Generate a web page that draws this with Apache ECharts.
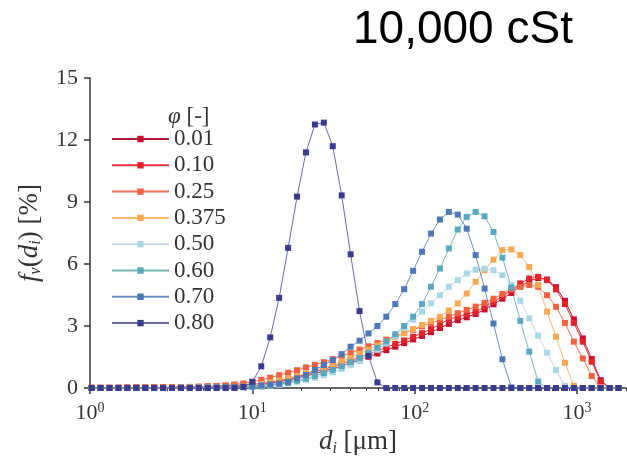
<!DOCTYPE html>
<html>
<head>
<meta charset="utf-8">
<script src="https://cdn.jsdelivr.net/npm/echarts@6/dist/echarts.min.js"></script>
<style>
html, body { margin: 0; padding: 0; background: #fff; }
#chart { width: 627px; height: 459px; }
</style>
</head>
<body>
<div id="chart"></div>
<script>
// droplet size classes [um]
var sizes = [1.023, 1.161, 1.318, 1.496, 1.698, 1.928, 2.188, 2.483, 2.818, 3.199, 3.631, 4.121, 4.677, 5.309, 6.026, 6.839, 7.762, 8.810,
  10.00, 11.35, 12.88, 14.62, 16.60, 18.84, 21.38, 24.27, 27.54, 31.26, 35.48, 40.27, 45.71, 51.88, 58.88, 66.83, 75.86, 86.10, 97.72,
  110.9, 125.9, 142.9, 162.2, 184.1, 208.9, 237.1, 269.2, 305.5, 346.7, 393.6, 446.7, 507.0, 575.4, 653.1, 741.3, 841.4, 955.0, 1084, 1230, 1396, 1585, 1799];

var phi001 = [0.01, 0.01, 0.01, 0.01, 0.01, 0.02, 0.02, 0.02, 0.03, 0.03, 0.04, 0.05, 0.05, 0.06, 0.08, 0.09, 0.11, 0.13,
  0.15, 0.19, 0.24, 0.31, 0.39, 0.48, 0.58, 0.69, 0.81, 0.94, 1.07, 1.21, 1.36, 1.51, 1.67, 1.83, 2.0, 2.17, 2.35,
  2.52, 2.7, 2.9, 3.1, 3.28, 3.42, 3.58, 3.8, 4.05, 4.32, 4.6, 4.92, 5.18, 5.32, 5.25, 4.88, 4.22, 3.32, 2.4, 1.4, 0.38, 0, 0];
var phi010 = [0.01, 0.01, 0.01, 0.01, 0.02, 0.02, 0.02, 0.03, 0.03, 0.04, 0.04, 0.05, 0.06, 0.07, 0.09, 0.1, 0.12, 0.14,
  0.17, 0.22, 0.28, 0.36, 0.45, 0.55, 0.66, 0.78, 0.9, 1.04, 1.18, 1.33, 1.48, 1.64, 1.8, 1.96, 2.13, 2.3, 2.48,
  2.65, 2.85, 3.09, 3.32, 3.45, 3.57, 3.69, 3.93, 4.17, 4.44, 4.73, 5.06, 5.30, 5.38, 5.22, 4.77, 4.06, 3.15, 2.24, 1.27, 0.31, 0, 0];
var phi025 = [0.01, 0.01, 0.01, 0.01, 0.01, 0.02, 0.02, 0.02, 0.03, 0.03, 0.04, 0.05, 0.06, 0.08, 0.1, 0.13, 0.17, 0.22,
  0.3, 0.4, 0.5, 0.62, 0.74, 0.86, 1.0, 1.12, 1.25, 1.4, 1.55, 1.7, 1.86, 2.02, 2.18, 2.34, 2.5, 2.66, 2.82,
  2.98, 3.14, 3.3, 3.46, 3.62, 3.78, 3.94, 4.12, 4.32, 4.55, 4.78, 4.9, 4.98, 4.9, 4.49, 3.93, 3.15, 2.24, 1.43, 0.58, 0, 0, 0];
var phi0375 = [0, 0, 0, 0, 0, 0, 0.01, 0.01, 0.01, 0.02, 0.02, 0.03, 0.03, 0.04, 0.05, 0.05, 0.07, 0.1,
  0.14, 0.2, 0.28, 0.37, 0.47, 0.58, 0.7, 0.83, 0.97, 1.12, 1.28, 1.45, 1.65, 1.85, 2.05, 2.25, 2.45, 2.65, 2.85,
  3.05, 3.25, 3.44, 3.75, 4.09, 4.57, 5.14, 5.70, 6.21, 6.67, 6.71, 6.43, 5.86, 4.98, 3.69, 2.48, 1.22, 0.1, 0, 0, 0, 0, 0];
var phi050 = [0, 0, 0, 0, 0, 0, 0, 0, 0, 0, 0.01, 0.01, 0.01, 0.01, 0.02, 0.02, 0.03, 0.03,
  0.04, 0.06, 0.1, 0.15, 0.22, 0.3, 0.4, 0.5, 0.62, 0.76, 0.92, 1.1, 1.3, 1.55, 1.85, 2.15, 2.5, 2.9, 3.3,
  3.7, 4.1, 4.49, 4.9, 5.22, 5.54, 5.73, 5.78, 5.70, 5.46, 4.98, 4.22, 3.37, 2.53, 1.71, 0.87, 0.1, 0, 0, 0, 0, 0, 0];
var phi060 = [0, 0, 0, 0, 0, 0, 0, 0, 0, 0, 0.01, 0.01, 0.01, 0.02, 0.02, 0.03, 0.03, 0.04,
  0.05, 0.08, 0.12, 0.18, 0.25, 0.35, 0.45, 0.58, 0.72, 0.88, 1.05, 1.25, 1.45, 1.7, 1.95, 2.25, 2.6, 3.0, 3.45,
  4.06, 4.9, 5.78, 6.75, 7.67, 8.28, 8.52, 8.31, 7.55, 6.31, 4.86, 3.25, 1.76, 0.31, 0, 0, 0, 0, 0, 0, 0, 0, 0];
var phi070 = [0, 0, 0, 0, 0, 0, 0, 0, 0, 0, 0.01, 0.01, 0.02, 0.02, 0.03, 0.04, 0.05, 0.07,
  0.1, 0.13, 0.17, 0.22, 0.3, 0.47, 0.63, 0.87, 1.11, 1.35, 1.64, 2.0, 2.29, 2.64, 3.0, 3.45, 4.06, 4.78, 5.67,
  6.59, 7.47, 8.15, 8.52, 8.39, 7.71, 6.43, 4.81, 3.12, 1.39, 0.03, 0, 0, 0, 0, 0, 0, 0, 0, 0, 0, 0, 0];
var phi080 = [0, 0, 0, 0, 0, 0, 0, 0, 0, 0, 0, 0, 0, 0, 0, 0, 0, 0.05,
  0.3, 1.05, 2.45, 4.36, 6.78, 9.26, 11.4, 12.75, 12.84, 11.7, 9.32, 6.47, 3.72, 1.55, 0.27, 0, 0, 0, 0,
  0, 0, 0, 0, 0, 0, 0, 0, 0, 0, 0, 0, 0, 0, 0, 0, 0, 0, 0, 0, 0, 0, 0];

var xTicks = [1, 10, 100, 1000];
var xMinorTicks = [2, 3, 4, 5, 6, 7, 8, 9, 20, 30, 40, 50, 60, 70, 80, 90, 200, 300, 400, 500, 600, 700, 800, 900, 2000];

var serif = "'Liberation Serif', 'DejaVu Serif', serif";

function pairs(vals) {
  var out = [];
  for (var i = 0; i < sizes.length; i++) {
    out.push([sizes[i], vals[i]]);
  }
  return out;
}

function curve(name, vals, color, lineColor) {
  return {
    name: name,
    type: "line",
    data: pairs(vals),
    symbol: "rect",
    symbolSize: 6,
    showAllSymbol: true,
    itemStyle: { color: color },
    lineStyle: { color: lineColor, width: 1 }
  };
}

var myChart = echarts.init(document.getElementById("chart"));
var option = {
  animation: false,
  backgroundColor: "#fff",
  title: [
    {
      text: "10,000 cSt",
      left: 348,
      top: 2,
      textStyle: { fontFamily: "'Liberation Sans', Arial, sans-serif", fontSize: 46, fontWeight: "normal", color: "#000" }
    },
    {
      text: "{i|φ} [-]",
      left: 163,
      top: 100,
      textStyle: {
        fontFamily: serif, fontSize: 23, fontWeight: "normal", color: "#333",
        rich: { i: { fontFamily: serif, fontSize: 23, fontStyle: "italic", color: "#333" } }
      }
    }
  ],
  legend: {
    orient: "vertical",
    left: 106,
    top: 122,
    itemWidth: 57,
    itemHeight: 8,
    itemGap: 2.3,
    textStyle: { fontFamily: serif, fontSize: 23, lineHeight: 24, color: "#333" },
    data: ["0.01", "0.10", "0.25", "0.375", "0.50", "0.60", "0.70", "0.80"]
  },
  grid: { left: 90, top: 78, right: 1, bottom: 71, outerBoundsMode: "none", containLabel: false },
  xAxis: [
    {
      type: "log",
      logBase: 10,
      min: 1,
      max: 2000,
      name: "{i|d}{sub|i}{n| [μm]}",
      nameLocation: "middle",
      nameGap: 37,
      nameTextStyle: {
        fontFamily: serif, fontSize: 27, color: "#333",
        rich: {
          i: { fontFamily: serif, fontSize: 27, fontStyle: "italic", color: "#333" },
          sub: { fontFamily: serif, fontSize: 16, fontStyle: "italic", color: "#333", padding: [12, 0, 0, 0] },
          n: { fontFamily: serif, fontSize: 27, color: "#333" }
        }
      },
      axisLine: { lineStyle: { color: "#333", width: 1.5 } },
      axisTick: { customValues: xTicks, length: 6, lineStyle: { color: "#333", width: 1.5 } },
      axisLabel: {
        customValues: xTicks,
        margin: 13,
        formatter: function (v) {
          var e = Math.round(Math.log(v) / Math.LN10);
          return "{b|10}{s|" + e + "}";
        },
        rich: {
          b: { fontFamily: serif, fontSize: 22, color: "#333" },
          s: { fontFamily: serif, fontSize: 14, color: "#333", padding: [0, 0, 10, 0] }
        }
      },
      splitLine: { show: false }
    },
    {
      type: "log",
      logBase: 10,
      min: 1,
      max: 2000,
      position: "bottom",
      axisLine: { show: false },
      axisLabel: { show: false },
      axisTick: { customValues: xMinorTicks, length: 3, lineStyle: { color: "#333", width: 1 } },
      splitLine: { show: false }
    }
  ],
  yAxis: {
    type: "value",
    min: 0,
    max: 15,
    interval: 3,
    name: "{i|f}{sub|v}{n|(}{i|d}{sub|i}{n|) [%]}",
    nameLocation: "middle",
    nameRotate: 90,
    nameGap: 46,
    nameTextStyle: {
      fontFamily: serif, fontSize: 27, color: "#333",
      rich: {
        i: { fontFamily: serif, fontSize: 27, fontStyle: "italic", color: "#333" },
        sub: { fontFamily: serif, fontSize: 16, fontStyle: "italic", color: "#333", padding: [12, 0, 0, 0] },
        n: { fontFamily: serif, fontSize: 27, color: "#333" }
      }
    },
    axisLine: { show: true, lineStyle: { color: "#333", width: 1.5 } },
    axisTick: { show: true, length: 6, lineStyle: { color: "#333", width: 1.5 } },
    axisLabel: { margin: 12, fontFamily: serif, fontSize: 22, color: "#333" },
    splitLine: { show: false }
  },
  series: [
    curve("0.01", phi001, "#c8102e", "#b01838"),
    curve("0.10", phi010, "#e8222a", "#e83040"),
    curve("0.25", phi025, "#f26040", "#f07050"),
    curve("0.375", phi0375, "#f8a850", "#f8b870"),
    curve("0.50", phi050, "#a8d8e8", "#c8d4e4"),
    curve("0.60", phi060, "#5aa8c0", "#78b8b8"),
    curve("0.70", phi070, "#4a78b8", "#6a90c0"),
    curve("0.80", phi080, "#3a3a8e", "#6a6aaa")
  ]
};
myChart.setOption(option);
</script>
</body>
</html>
